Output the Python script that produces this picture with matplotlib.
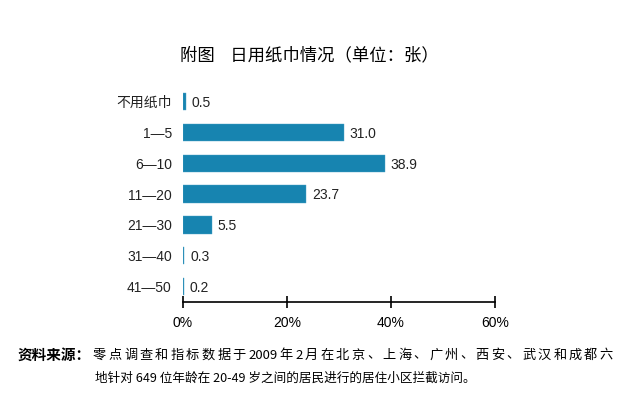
import re
import matplotlib
matplotlib.use('Agg')
import matplotlib.pyplot as plt

plt.rcParams['font.family'] = ['Liberation Sans', 'Noto Sans CJK SC']

# 数据
categories = ['不用纸巾', '1—5', '6—10', '11—20', '21—30', '31—40', '41—50']
values = [0.5, 31.0, 38.9, 23.7, 5.5, 0.3, 0.2]
xticks = [0, 20, 40, 60]
xtick_labels = ['0%', '20%', '40%', '60%']

title = '附图    日用纸巾情况（单位：张）'
source_head = '资料来源：'
source_line1 = '零点调查和指标数据于 2009 年 2 月在北京、上海、广州、西安、武汉和成都六'
source_line2 = '地针对 649 位年龄在 20-49 岁之间的居民进行的居住小区拦截访问。'

cjk = ['Noto Sans CJK SC', 'DejaVu Sans']

fig = plt.figure(figsize=(6.18, 3.98), dpi=100)
ax = fig.add_axes([0.296, 0.241, 0.505, 0.543])

pos = list(range(len(categories)))
ax.barh(pos, values, height=0.56, color='#1784b0', edgecolor='#4aa3c8', linewidth=0.3)
for p, v in zip(pos, values):
    ax.annotate('%.1f' % v, (v, p), xytext=(4, -1), textcoords='offset points',
                va='center', ha='left', fontsize=10, color='#222222')

ax.set_ylim(len(categories) - 0.5, -0.5)
ax.set_xlim(0, 60)
ax.set_yticks(pos)
ax.set_yticklabels(categories, fontsize=10, color='#222222')
ax.set_xticks(xticks)
ax.set_xticklabels(xtick_labels, fontsize=9.5, color='#222222')
ax.tick_params(axis='y', length=0, pad=8)
ax.tick_params(axis='x', direction='inout', length=8, width=1.2, pad=6)
for s in ['top', 'right', 'left']:
    ax.spines[s].set_visible(False)
ax.spines['bottom'].set_linewidth(1.2)
ax.spines['bottom'].set_position(('data', len(categories) - 0.5))

fig.text(0.5, 0.862, title, ha='center', va='center', fontsize=12.5, family=cjk)

# 资料来源（第一行两端对齐）
fig.text(0.028, 0.108, source_head, ha='left', va='center', fontsize=10.5,
         fontweight='bold', family=cjk)
renderer = fig.canvas.get_renderer()
W = fig.get_figwidth() * fig.dpi
x0, x1 = 93 / W, 613 / W
tokens = re.findall(r'[0-9]+|\S', source_line1)
texts = [fig.text(0, 0.108, c, ha='left', va='center', fontsize=9.5, family=cjk) for c in tokens]
widths = [t.get_window_extent(renderer).width / W for t in texts]
gap = (x1 - x0 - sum(widths)) / (len(tokens) - 1)
x = x0
for t, w in zip(texts, widths):
    t.set_x(x)
    x += w + gap

fig.text(0.462, 0.05, source_line2, ha='center', va='center', fontsize=9.1, family=cjk)

plt.savefig('out.png', dpi=100)
